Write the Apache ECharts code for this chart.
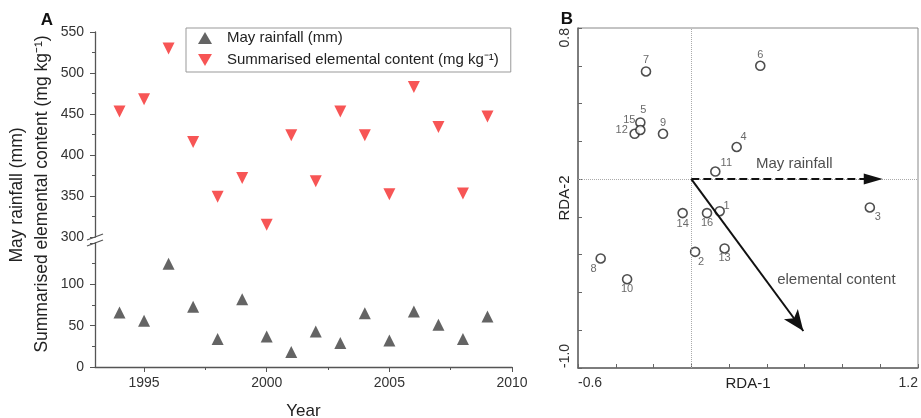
<!DOCTYPE html>
<html>
<head>
<meta charset="utf-8">
<script src="https://cdn.jsdelivr.net/npm/echarts@6/dist/echarts.min.js"></script>
<style>
html,body{margin:0;padding:0;background:#fff;}
#chart{width:921px;height:418px;}
</style>
</head>
<body>
<div id="chart"></div>
<script>
// panel A: yearly values
var years = [1994,1995,1996,1997,1998,1999,2000,2001,2002,2003,2004,2005,2006,2007,2008,2009];
var mayRainfall = [66,56,125,73,34,82,37,18,43,29,65,32,67,51,34,61];
var elementalContent = [453,468,530,416,349,372,315,424,368,453,424,352,483,434,353,447];
var yearTicks = [1995,2000,2005,2010];
var yearMinorTicks = [1997.5,2002.5,2007.5];

// panel B: RDA site scores and environmental arrows
var sites = ['1','2','3','4','5','6','7','8','9','10','11','12','13','14','15','16'];
var rda1 = [0.15,0.02,0.945,0.24,-0.27,0.365,-0.24,-0.48,-0.15,-0.34,0.127,-0.30,0.176,-0.046,-0.27,0.083];
var rda2 = [-0.17,-0.385,-0.15,0.17,0.30,0.60,0.57,-0.42,0.24,-0.53,0.04,0.24,-0.367,-0.18,0.26,-0.18];
var envNames = ['May rainfall','elemental content'];
var envRda1 = [0.963,0.593];
var envRda2 = [0,-0.804];

var FONT = 'Liberation Sans, Arial, sans-serif';
var AXIS = '#555';
var TXT = '#333';

// where each site number sits around its circle (px)
var siteLabelOffset = {
  '1':[7,-5],'2':[6,10],'3':[8,10],'4':[7,-10],'5':[3,-12],'6':[0,-11],'7':[0,-11],'8':[-7,11],
  '9':[0,-11],'10':[0,10],'11':[11,-9],'12':[-13,-4],'13':[0,10],'14':[0,11],'15':[-11,-10],'16':[0,10]
};
var envLabelOffset = [[-79,-15],[33,-51]];

var nameRain = 'May rainfall (mm)';
var nameElem = 'Summarised elemental content (mg kg\u207B\u00B9)';

var siteData = sites.map(function(s,i){
  return {name:s, value:[rda1[i],rda2[i]], label:{offset:siteLabelOffset[s]}};
});
var envData = envNames.map(function(n,i){
  return {name:n, value:[envRda1[i],envRda2[i]], label:{offset:envLabelOffset[i]}};
});
var envLines = envNames.map(function(n,i){
  return [
    {coord:[0,0], symbol:'none', lineStyle:{type: i===0 ? 'dashed' : 'solid'}},
    {coord:[envRda1[i],envRda2[i]], symbol: i===0 ? 'triangle' : 'arrow', symbolSize: i===0 ? [11,19] : [13,21]}
  ];
});

var yearAxisBase = {min:1993, max:2010, type:'value', splitLine:{show:false}};

var chart = echarts.init(document.getElementById('chart'));
var option = {
  animation:false,
  textStyle:{fontFamily:FONT},
  grid:[
    {left:95, right:409, top:32, height:205, outerBoundsMode:'none'},
    {left:95, right:409, top:243, bottom:51, outerBoundsMode:'none'},
    {left:578, right:3, top:28, bottom:50, outerBoundsMode:'none', show:true, borderColor:'#888', borderWidth:1}
  ],
  legend:{
    left:186, top:28, orient:'vertical',
    padding:[2,12,4,12], itemGap:6, itemWidth:14, itemHeight:12,
    borderColor:'#999', borderWidth:1,
    textStyle:{fontSize:15, color:'#222', fontFamily:FONT, padding:[0,0,0,10], lineHeight:16},
    data:[
      {name:nameRain, icon:'triangle'},
      {name:nameElem, icon:'path://M0,0L10,0L5,8.66Z'}
    ]
  },
  xAxis:[
    Object.assign({gridIndex:0, show:false}, yearAxisBase),
    Object.assign({gridIndex:1, position:'bottom',
      name:'Year', nameLocation:'middle', nameGap:36, nameMoveOverlap:false,
      nameTextStyle:{fontSize:17, color:'#222'},
      axisLine:{onZero:false, lineStyle:{color:AXIS, width:1.3}},
      axisTick:{show:true, length:5, customValues:yearTicks, lineStyle:{color:AXIS}},
      axisLabel:{customValues:yearTicks, fontSize:14, color:TXT, margin:9,
        formatter:function(v){return String(v);}}
    }, yearAxisBase),
    Object.assign({gridIndex:1, position:'bottom',
      axisLine:{show:false},
      axisTick:{show:true, length:3, customValues:yearMinorTicks, lineStyle:{color:AXIS}},
      axisLabel:{show:false}
    }, yearAxisBase),
    {gridIndex:2, type:'value', min:-0.6, max:1.2, interval:0.2,
      name:'RDA-1', nameLocation:'middle', nameGap:8, nameMoveOverlap:false,
      nameTextStyle:{fontSize:15, color:'#222'},
      axisLine:{onZero:false, lineStyle:{color:'#666', width:1.5}},
      axisTick:{inside:true, length:4, lineStyle:{color:'#666'}},
      axisLabel:{customValues:[-0.6,1.2], fontSize:14, color:TXT, margin:8,
        alignMinLabel:'left', alignMaxLabel:'right',
        formatter:function(v){return v.toFixed(1);}},
      splitLine:{show:false}}
  ],
  yAxis:[
    {gridIndex:0, type:'value', min:300, max:550, interval:50,
      axisLine:{show:true, lineStyle:{color:AXIS, width:1.3}},
      axisTick:{show:true, length:5, lineStyle:{color:AXIS}},
      minorTick:{show:true, splitNumber:2, length:3, lineStyle:{color:AXIS}},
      axisLabel:{fontSize:14, color:TXT, margin:11},
      splitLine:{show:false}},
    {gridIndex:1, type:'value', min:0, max:150, interval:50,
      axisLine:{show:true, lineStyle:{color:AXIS, width:1.3}},
      axisTick:{show:true, length:5, lineStyle:{color:AXIS}},
      minorTick:{show:true, splitNumber:2, length:3, lineStyle:{color:AXIS}},
      axisLabel:{fontSize:14, color:TXT, margin:11,
        formatter:function(v){return v===150 ? '' : v;}},
      splitLine:{show:false}},
    {gridIndex:2, type:'value', min:-1.0, max:0.8, interval:0.2,
      name:'RDA-2', nameLocation:'middle', nameGap:6, nameRotate:90, nameMoveOverlap:false,
      nameTextStyle:{fontSize:15, color:'#222'},
      axisLine:{onZero:false, lineStyle:{color:'#666', width:1.5}},
      axisTick:{inside:true, length:4, lineStyle:{color:'#666'}},
      axisLabel:{customValues:[-1.0,0.8], rotate:90, fontSize:14, color:TXT, margin:6,
        alignMinLabel:'left', alignMaxLabel:'right',
        formatter:function(v){return v.toFixed(1);}},
      splitLine:{show:false}}
  ],
  series:[
    {name:nameRain, type:'scatter', xAxisIndex:1, yAxisIndex:1,
      symbol:'triangle', symbolSize:12,
      itemStyle:{color:'#3d3d3d'},
      data:years.map(function(y,i){return [y, mayRainfall[i]];})},
    {name:nameElem, type:'scatter', xAxisIndex:0, yAxisIndex:0,
      symbol:'triangle', symbolSize:12, symbolRotate:180,
      itemStyle:{color:'#f52a2a'},
      data:years.map(function(y,i){return [y, elementalContent[i]];})},
    {name:'sites', type:'scatter', xAxisIndex:3, yAxisIndex:2,
      symbol:'circle', symbolSize:9,
      itemStyle:{color:'#fff', borderColor:'#222', borderWidth:1.6},
      label:{show:true, position:'inside', formatter:'{b}', fontSize:11, color:'#444'},
      markLine:{silent:true, symbol:'none', label:{show:false},
        lineStyle:{color:'#aaa', type:'dotted', width:1},
        data:[{xAxis:0},{yAxis:0}]},
      data:siteData, z:3},
    {name:'env', type:'scatter', xAxisIndex:3, yAxisIndex:2,
      symbolSize:0,
      label:{show:true, position:'inside', formatter:'{b}', fontSize:15, color:'#222'},
      markLine:{silent:true, symbol:['none','arrow'],
        label:{show:false},
        lineStyle:{color:'#111', width:2, opacity:1},
        data:envLines},
      data:envData, z:4}
  ]
};
chart.setOption(option);

// axis-break marks and panel texts, placed from the axes
var xA = chart.convertToPixel({xAxisIndex:1}, 1993);
var yTop = chart.convertToPixel({yAxisIndex:0}, 300);
var yBot = chart.convertToPixel({yAxisIndex:1}, 150);
chart.setOption({
  graphic:[
    {type:'line', shape:{x1:xA-8, y1:yTop+3, x2:xA+8, y2:yTop-3}, style:{stroke:AXIS, lineWidth:1.3}},
    {type:'line', shape:{x1:xA-8, y1:yBot+3, x2:xA+8, y2:yBot-3}, style:{stroke:AXIS, lineWidth:1.3}},
    {type:'text', x:17, y:195, rotation:Math.PI/2,
      style:{text:'May rainfall (mm)', font:'17.5px ' + FONT, fill:'#222', align:'center', verticalAlign:'middle'}},
    {type:'text', x:42, y:194, rotation:Math.PI/2,
      style:{text:nameElem, font:'17.5px ' + FONT, fill:'#222', align:'center', verticalAlign:'middle'}},
    {type:'text', x:47, y:20,
      style:{text:'A', font:'bold 17px ' + FONT, fill:'#111', align:'center', verticalAlign:'middle'}},
    {type:'text', x:567, y:19,
      style:{text:'B', font:'bold 17px ' + FONT, fill:'#111', align:'center', verticalAlign:'middle'}}
  ]
});
</script>
</body>
</html>
